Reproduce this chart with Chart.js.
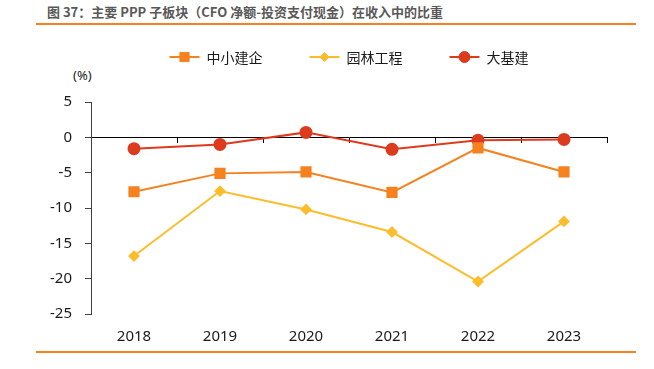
<!DOCTYPE html>
<html>
<head>
<meta charset="utf-8">
<script src="https://cdn.jsdelivr.net/npm/chart.js@4"></script>
<style>
  body { margin: 0; background: #fff; }
  #wrap { position: relative; width: 654px; height: 369px; overflow: hidden; }
  #title { position: absolute; left: 47px; top: 2px; font: bold 13px "Noto Sans CJK SC"; color: #595959; white-space: nowrap; }
  .rule { position: absolute; left: 36px; width: 600px; height: 0; border-top: 2px solid #F5821F; }
  #unit { position: absolute; left: 73px; top: 66px; font: 13px "Noto Sans"; color: #222; }
  canvas { position: absolute; left: 0; top: 0; }
</style>
</head>
<body>
<div id="wrap">
  <div id="title">图 37：主要 PPP 子板块（CFO 净额-投资支付现金）在收入中的比重</div>
  <div class="rule" style="top:23px"></div>
  <div id="unit">(%)</div>
  <canvas id="ppp" width="654" height="369"></canvas>
  <div class="rule" style="top:351px"></div>
</div>
<script>
// 年份
const years = ['2018', '2019', '2020', '2021', '2022', '2023'];
// 各子板块 (CFO净额-投资支付现金)/收入, %
const smallBuilders = [-7.7, -5.1, -4.9, -7.8, -1.5, -4.9];   // 中小建企
const landscaping = [-16.8, -7.6, -10.2, -13.4, -20.4, -11.9]; // 园林工程
const infra = [-1.6, -1.0, 0.7, -1.7, -0.4, -0.3];           // 大基建
const yMin = -25, yMax = 5, yStep = 5;

// 图例: 线段 + 标记 + 文字
const lineLegend = {
    id: 'lineLegend',
    afterDraw(chart) {
        const ctx = chart.ctx;
        const area = chart.chartArea;
        const lineLen = 30, gapText = 7, gapItem = 47, y = 57;
        ctx.save();
        ctx.font = '14px "Noto Sans CJK SC"';
        const items = chart.data.datasets.map(ds => ({ ds: ds, w: ctx.measureText(ds.label).width }));
        const total = items.reduce((s, it) => s + lineLen + gapText + it.w, 0) + gapItem * (items.length - 1);
        let x = (area.left + area.right) / 2 - total / 2;
        items.forEach(it => {
            const ds = it.ds;
            ctx.strokeStyle = ds.borderColor;
            ctx.lineWidth = 2;
            ctx.beginPath();
            ctx.moveTo(x, y);
            ctx.lineTo(x + lineLen, y);
            ctx.stroke();
            ctx.fillStyle = ds.pointBackgroundColor;
            ctx.strokeStyle = ds.pointBorderColor;
            ctx.lineWidth = 1;
            Chart.helpers.drawPoint(ctx, { pointStyle: ds.pointStyle, radius: ds.pointRadius, borderWidth: 1, rotation: 0 }, x + lineLen / 2, y);
            ctx.fillStyle = '#1a1a1a';
            ctx.textBaseline = 'middle';
            ctx.fillText(ds.label, x + lineLen + gapText, y + 1);
            x += lineLen + gapText + it.w + gapItem;
        });
        ctx.restore();
    }
};

const ctx = document.getElementById('ppp').getContext('2d');
new Chart(ctx, {
    type: 'line',
    data: {
        labels: years,
        datasets: [
            {
                label: '中小建企',
                data: smallBuilders,
                borderColor: '#F5821F',
                backgroundColor: '#F5821F',
                pointBackgroundColor: '#F5821F',
                pointBorderColor: '#F5821F',
                pointStyle: 'rect',
                pointRadius: 6.5,
                borderWidth: 2,
                tension: 0,
                xAxisID: 'x',
                yAxisID: 'y'
            },
            {
                label: '园林工程',
                data: landscaping,
                borderColor: '#FCBD2D',
                backgroundColor: '#FCBD2D',
                pointBackgroundColor: '#FCBD2D',
                pointBorderColor: '#FCBD2D',
                pointStyle: 'rectRot',
                pointRadius: 4.5,
                borderWidth: 2,
                tension: 0,
                xAxisID: 'x',
                yAxisID: 'y'
            },
            {
                label: '大基建',
                data: infra,
                borderColor: '#DC3B1E',
                backgroundColor: '#DC3B1E',
                pointBackgroundColor: '#DC3B1E',
                pointBorderColor: '#DC3B1E',
                pointStyle: 'circle',
                pointRadius: 5.5,
                borderWidth: 2,
                tension: 0,
                xAxisID: 'x',
                yAxisID: 'y'
            }
        ]
    },
    options: {
        responsive: false,
        animation: false,
        devicePixelRatio: 1,
        layout: { padding: { top: 102, right: 47, left: 0, bottom: 0 } },
        plugins: {
            legend: { display: false },
            tooltip: { enabled: false }
        },
        scales: {
            x: {
                type: 'category',
                offset: true,
                grid: { display: false, drawTicks: false },
                border: { display: false },
                ticks: {
                    color: '#1a1a1a',
                    padding: 14,
                    font: { family: 'Noto Sans', size: 15 }
                },
                afterFit: scale => { scale.height = 55; }
            },
            x2: {
                type: 'category',
                axis: 'x',
                labels: years,
                offset: true,
                position: { y: 0 },
                grid: { offset: true, drawOnChartArea: false, drawTicks: true, tickLength: 5, color: '#000' },
                border: { color: '#000', width: 1 },
                ticks: { display: false }
            },
            y: {
                min: yMin,
                max: yMax,
                ticks: {
                    stepSize: yStep,
                    padding: 13,
                    color: '#1a1a1a',
                    font: { family: 'Noto Sans', size: 15 }
                },
                grid: { drawOnChartArea: false, drawTicks: true, tickLength: 6, color: '#404040' },
                border: { color: '#404040', width: 1 },
                afterFit: scale => { scale.width = 91; }
            }
        }
    },
    plugins: [lineLegend]
});
</script>
</body>
</html>
